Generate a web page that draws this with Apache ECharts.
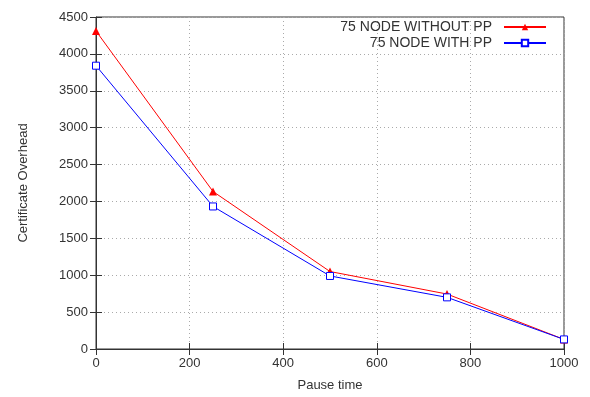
<!DOCTYPE html>
<html style="height: 100%">
<head>
    <meta charset="utf-8">
    <script src="https://cdn.jsdelivr.net/npm/echarts@6/dist/echarts.min.js"></script>
</head>
<body style="height: 100%; margin: 0; background: #fff">
<div id="container" style="width: 590px; height: 397px"></div>

<script type="text/javascript">
    var pauseTime = [0, 250, 500, 750, 1000];
    var withoutPP = [4310, 2135, 1050, 745, 130];
    var withPP = [3840, 1932, 990, 700, 130];
    var seriesNames = ['75 NODE WITHOUT PP', '75 NODE WITH PP'];

    function pairs(xs, ys) {
        return xs.map(function (x, i) { return [x, ys[i]]; });
    }
    function plain(v) { return String(v); }

    var font = 'Liberation Sans, Arial, sans-serif';
    var textColor = '#333';
    var gridLine = { show: true, lineStyle: { color: '#aaa', type: [1, 3], width: 1 } };

    var myChart = echarts.init(document.getElementById('container'));
    myChart.setOption({
        animation: false,
        textStyle: { fontFamily: font },
        grid: { left: 96, right: 26, top: 17, bottom: 47, show: true, borderColor: '#333', borderWidth: 1 },
        legend: {
            orient: 'vertical',
            right: 43,
            top: 19,
            padding: 0,
            align: 'right',
            itemWidth: 42,
            itemHeight: 8,
            itemGap: 0,
            textStyle: { fontFamily: font, fontSize: 14, color: textColor, padding: [0, 7, 0, 0], lineHeight: 16 },
            data: seriesNames
        },
        xAxis: [{
            type: 'value', min: 0, max: 1000, interval: 200,
            name: 'Pause time', nameLocation: 'middle', nameGap: 30,
            nameTextStyle: { fontSize: 13, color: textColor },
            axisLine: { lineStyle: { color: '#333' } },
            axisTick: { inside: true, length: 6, lineStyle: { color: '#333' } },
            axisLabel: { fontSize: 13, color: textColor, margin: 8, formatter: plain },
            splitLine: gridLine
        }, {
            type: 'value', position: 'top', min: 0, max: 1000, interval: 200,
            axisLine: { show: false },
            axisTick: { inside: true, length: 6, lineStyle: { color: '#333' } },
            axisLabel: { show: false }, splitLine: { show: false }
        }],
        yAxis: [{
            type: 'value', min: 0, max: 4500, interval: 500,
            name: 'Certificate Overhead', nameLocation: 'middle', nameGap: 66,
            nameTextStyle: { fontSize: 13, color: textColor },
            axisLine: { show: true, lineStyle: { color: '#333' } },
            axisTick: { show: true, inside: true, length: 6, lineStyle: { color: '#333' } },
            axisLabel: { fontSize: 13, color: textColor, margin: 8, formatter: plain },
            splitLine: gridLine
        }, {
            type: 'value', position: 'right', min: 0, max: 4500, interval: 500,
            axisLine: { show: false },
            axisTick: { show: true, inside: true, length: 6, lineStyle: { color: '#333' } },
            axisLabel: { show: false }, splitLine: { show: false }
        }],
        series: [{
            name: seriesNames[0],
            type: 'line',
            data: pairs(pauseTime, withoutPP),
            symbol: 'triangle',
            symbolSize: 8,
            itemStyle: { color: '#ff0000' },
            lineStyle: { color: '#ff0000', width: 1 }
        }, {
            name: seriesNames[1],
            type: 'line',
            data: pairs(pauseTime, withPP),
            symbol: 'rect',
            symbolSize: 7,
            itemStyle: { color: '#fff', borderColor: '#0000ff', borderWidth: 1 },
            lineStyle: { color: '#0000ff', width: 1 }
        }]
    });
</script>
</body>
</html>
